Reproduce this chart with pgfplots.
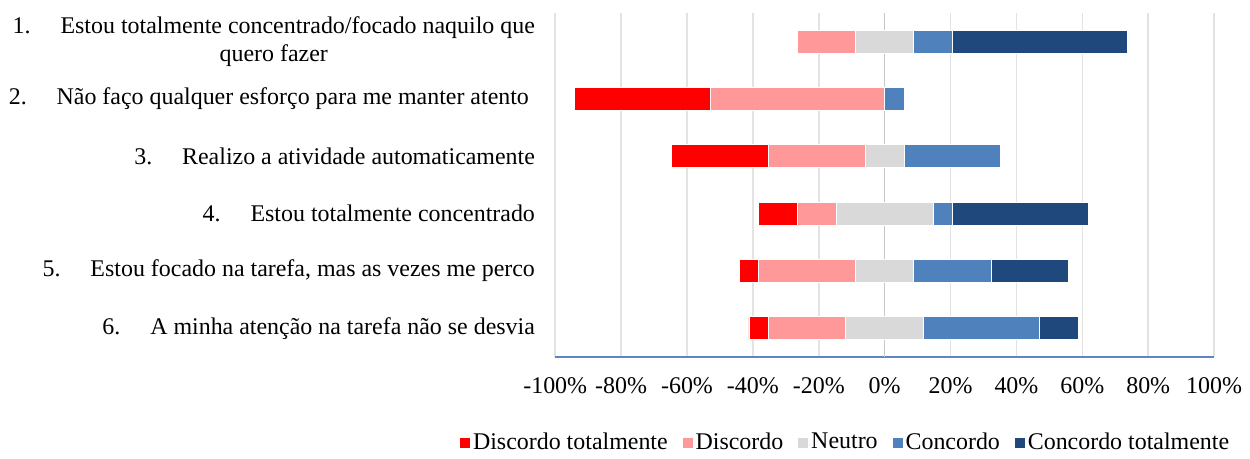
\documentclass[border=0pt]{standalone}
\usepackage{fontspec}
\setmainfont{Liberation Serif}
\usepackage{pgfplots}
\pgfplotsset{compat=1.18}
\definecolor{cdt}{HTML}{FF0000}
\definecolor{cdd}{HTML}{FF9999}
\definecolor{cnn}{HTML}{D9D9D9}
\definecolor{ccc}{HTML}{4F81BD}
\definecolor{cct}{HTML}{1F497D}
\definecolor{axblue}{HTML}{5B86C0}
\definecolor{gridc}{HTML}{E3E3E3}
\newcommand{\gap}{\hspace{15bp}}
\newcommand{\fs}{\fontsize{12bp}{14bp}\selectfont}
\begin{document}
\fs
\begin{tikzpicture}
\begin{axis}[
  scale only axis, width=330.5bp, height=172.5bp,
  xbar stacked, bar width=11.5bp,
  xmin=0, xmax=200, ymin=0.5, ymax=6.5, y dir=reverse,
  axis x line*=bottom, axis y line*=left,
  x axis line style={draw=axblue, line width=1bp, -},
  y axis line style={draw=none},
  major tick length=0pt,
  xtick={0,20,...,200},
  xticklabels={-100\%,-80\%,-60\%,-40\%,-20\%,0\%,20\%,40\%,60\%,80\%,100\%},
  xmajorgrids, grid style={draw=gridc, line width=0.75bp},
  extra x ticks={100}, extra x tick labels={},
  extra x tick style={grid style={draw=black!22, line width=0.75bp}},
  xticklabel style={font=\fs, yshift=-6bp},
  ytick={1,...,6},
  yticklabels={
    {1.\gap Estou totalmente concentrado/focado naquilo que\\quero fazer},
    {2.\gap Não faço qualquer esforço para me manter atento\hspace{3bp}},
    {3.\gap Realizo a atividade automaticamente},
    {4.\gap Estou totalmente concentrado},
    {5.\gap Estou focado na tarefa, mas as vezes me perco},
    {6.\gap A minha atenção na tarefa não se desvia}},
  yticklabel style={align=center, anchor=east, inner sep=0pt, xshift=-10bp, font=\fs},
  legend style={at={(axis description cs:0.44,-0.249)}, anchor=center,
    draw=none, fill=none, legend columns=6,
    font=\fs,
    /tikz/every even column/.append style={column sep=6bp},
    nodes={inner sep=1bp}},
  legend image code/.code={\fill[#1] (0bp,-2.8bp) rectangle (5.6bp,2.8bp);},
  every axis plot/.append style={draw=white, line width=0.4bp},
]
% invisible offset (100 - (DT + D + N/2)) so that Neutro is centred on 0%
\addplot[draw=none, fill=none, legend image code/.code={}] coordinates {(73.53,1) (5.88,2) (35.29,3) (61.76,4) (55.88,5) (58.82,6)};
\addplot[fill=cdt] coordinates {(0,1) (41.18,2) (29.41,3) (11.76,4) (5.88,5) (5.88,6)};
\addplot[fill=cdd] coordinates {(17.65,1) (52.94,2) (29.41,3) (11.76,4) (29.41,5) (23.53,6)};
\addplot[fill=cnn] coordinates {(17.65,1) (0,2) (11.76,3) (29.41,4) (17.65,5) (23.53,6)};
\addplot[fill=ccc] coordinates {(11.76,1) (5.88,2) (29.41,3) (5.88,4) (23.53,5) (35.29,6)};
\addplot[fill=cct] coordinates {(52.94,1) (0,2) (0,3) (41.18,4) (23.53,5) (11.76,6)};
\legend{{},Discordo totalmente, Discordo, Neutro, Concordo, Concordo totalmente}
\end{axis}
\path[use as bounding box] (-278.5bp,-48bp) rectangle (346.5bp,179bp);
\end{tikzpicture}
\end{document}
